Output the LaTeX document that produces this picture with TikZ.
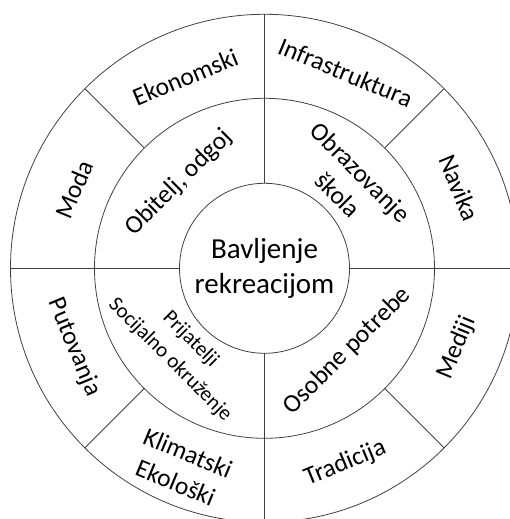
\documentclass[tikz,border=0pt]{standalone}
\usepackage{fontspec}
\setmainfont{Carlito}
\begin{document}
\begin{tikzpicture}[x=1pt,y=1pt,
  ln/.style={draw=black!75, line width=0.8pt},
  lab/.style={font=\fontsize{25.5}{32}\selectfont, align=center, inner sep=0pt},
  labs/.style={font=\fontsize{21}{29}\selectfont, align=center, inner sep=0pt},
  labc/.style={font=\fontsize{29}{35}\selectfont, align=center, inner sep=0pt}]
\useasboundingbox (0,0) rectangle (510,519);
\clip (0,0) rectangle (510,519);
\coordinate (C) at (264.5,250.7);
% rings
\draw[ln] (C) circle (254);
\draw[ln] (C) circle (170);
\draw[ln] (C) circle (85);
% dividers
\foreach \a in {0,90,180,270} \draw[ln] (C) ++(\a:85) -- ++(\a:169);
\foreach \a in {45,135,225,315} \draw[ln] (C) ++(\a:170) -- ++(\a:84);
% center
\node[labc] (core) at (C) {Bavljenje\\rekreacijom};
% middle ring
\node[lab, rotate=45]  (obi) at ([shift={(135:121)}]C) {Obitelj, odgoj};
\node[lab, rotate=-45] (obr) at ([shift={(45:120)}]C) {Obrazovanje\\škola};
\node[labs, rotate=-45] (pri) at ([shift={(224:117)}]C) {Prijatelji\\Socijalno okruženje};
\node[lab, rotate=45]  (oso) at ([shift={(315:117)}]C) {Osobne potrebe};
% outer ring
\node[lab, rotate=22.5]  (eko) at ([shift={(112.5:207)}]C) {Ekonomski};
\node[lab, rotate=-22.5] (inf) at ([shift={(67.5:212)}]C) {Infrastruktura};
\node[lab, rotate=-67.5] (nav) at ([shift={(22.5:211)}]C) {Navika};
\node[lab, rotate=67.5]  (mod) at ([shift={(157.5:206)}]C) {Moda};
\node[lab, rotate=-67.5] (put) at ([shift={(202.5:206)}]C) {Putovanja};
\node[lab, rotate=-22.5] (kli) at ([shift={(247.5:216)}]C) {Klimatski\\Ekološki};
\node[lab, rotate=22.5]  (tra) at ([shift={(292.5:211)}]C) {Tradicija};
\node[lab, rotate=67.5]  (med) at ([shift={(337.5:208)}]C) {Mediji};
\end{tikzpicture}
\end{document}
